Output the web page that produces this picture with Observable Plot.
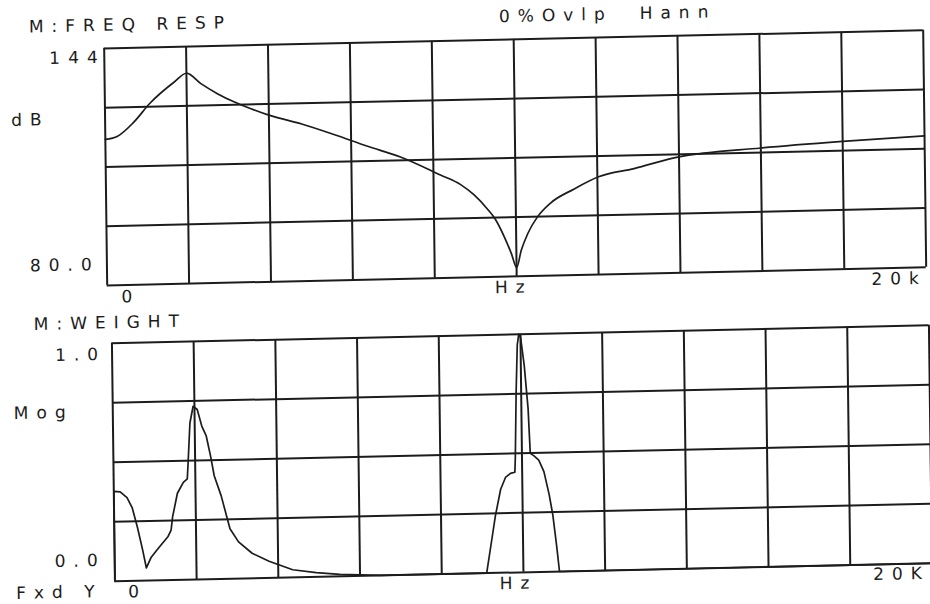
<!DOCTYPE html>
<html>
<head>
<meta charset="utf-8">
<script src="https://cdn.jsdelivr.net/npm/d3@7"></script>
<script src="https://cdn.jsdelivr.net/npm/@observablehq/plot@0.6"></script>
<style>
html, body { margin: 0; padding: 0; background: #fff; overflow: hidden; }
#page { position: relative; width: 930px; height: 604px; overflow: hidden; background: #fff; }
#wrap { position: absolute; left: 0; top: 0; width: 930px; height: 604px;
        transform-origin: 465px 302px; transform: matrix(1, -0.022, 0.0127, 1, 0, 0); }
#wrap svg { position: absolute; left: 0; overflow: visible; }
#wrap text { font-family: "DejaVu Sans", sans-serif; letter-spacing: 8px; white-space: pre; }
</style>
</head>
<body>
<div id="page"><div id="wrap"></div></div>
<script>
// ---- axes / ticks ----
const freqGrid = [0, 2000, 4000, 6000, 8000, 10000, 12000, 14000, 16000, 18000, 20000];
const dbGrid = [80, 96, 112, 128, 144];
const magGrid = [0, 0.25, 0.5, 0.75, 1];

// ---- texts ----
const respTitle = "M:FREQ RESP";
const windowNote = "0%Ovlp  Hann";
const respUnit = "dB";
const respTickLabels = ["144", "80.0"];
const respFreqLabels = ["0", "Hz", "20k"];
const weightTitle = "M:WEIGHT";
const weightUnit = "Mog";
const weightTickLabels = ["1.0", "0.0"];
const weightScaleNote = "Fxd Y";
const weightFreqLabels = ["0", "Hz", "20K"];

// ---- series: frequency response (dB) ----
const respFreq = [0, 300, 700, 1100, 1700, 2000, 2350, 2750, 3150, 3550, 4000, 4800, 5600, 6400, 7200, 8170, 8660, 8980, 9310, 9470, 9715, 9880, 10000, 10120, 10285, 10530, 10850, 11420, 12030, 12900, 14000, 16000, 18000, 20000];
const respDb = [119.4, 120.2, 123.9, 128.9, 134.5, 136.8, 133.9, 131.1, 128.8, 126.9, 125.0, 122.4, 119.3, 116.0, 112.9, 107.8, 105.1, 102.3, 98.3, 96.0, 90.6, 86.1, 82.4, 87.0, 91.5, 96.0, 99.6, 103.2, 106.4, 108.4, 111.3, 113.2, 114.5, 115.5];

// ---- series: weight (magnitude) ----
const weightFreq = [0, 0, 156, 321, 444, 568, 691, 773, 896, 1062, 1309, 1390, 1432, 1556, 1704, 1802, 1827, 1884, 1967, 2067, 2173, 2279, 2378, 2462, 2625, 2749, 2832, 3037, 3366, 3778, 4354, 4930, 5506, 6500, 9100, 9222, 9330, 9468, 9590, 9713, 9821, 9836, 9877, 9919, 9958, 10000, 10082, 10164, 10204, 10287, 10410, 10532, 10655, 10736, 10818, 10883, 20000];
const weightMag = [0, 0.378, 0.375, 0.35, 0.308, 0.224, 0.126, 0.053, 0.098, 0.133, 0.182, 0.21, 0.266, 0.364, 0.409, 0.423, 0.49, 0.658, 0.728, 0.714, 0.644, 0.602, 0.518, 0.434, 0.35, 0.266, 0.21, 0.154, 0.105, 0.07, 0.032, 0.018, 0.008, 0, 0, 0.126, 0.239, 0.351, 0.4, 0.417, 0.421, 0.478, 0.758, 0.955, 1.0, 0.99, 0.871, 0.688, 0.499, 0.489, 0.47, 0.421, 0.323, 0.239, 0.112, 0, 0];

const resp = respFreq.map((f, i) => ({f, v: respDb[i]}));
const weight = weightFreq.map((f, i) => ({f, v: weightMag[i]}));

const INK = "#1c1c1c";
const label = (t, o) => Plot.text([t], {textAnchor: "start", lineAnchor: "middle", fill: INK, fontSize: 17, ...o});

const respChart = Plot.plot({
  width: 930, height: 300,
  marginTop: 40, marginBottom: 23, marginLeft: 107, marginRight: 4,
  style: {background: "none", overflow: "visible"},
  x: {domain: [0, 20000], axis: null},
  y: {domain: [80, 144], axis: null},
  marks: [
    Plot.ruleX(freqGrid, {stroke: INK, strokeWidth: 2}),
    Plot.ruleY(dbGrid, {stroke: INK, strokeWidth: 2}),
    Plot.line(resp, {x: "f", y: "v", curve: "monotone-x", stroke: INK, strokeWidth: 1.7}),
    label(respTitle, {frameAnchor: "top-left", dx: -75, dy: -23}),
    label(windowNote, {frameAnchor: "top-left", dx: 395, dy: -23}),
    label(respUnit, {frameAnchor: "top-left", dx: -94, dy: 70}),
    label(respTickLabels[0], {frameAnchor: "left", y: [dbGrid[4]], dx: -55, dy: 9}),
    label(respTickLabels[1], {frameAnchor: "left", y: [dbGrid[0]], dx: -77, dy: -21}),
    label(respFreqLabels[0], {frameAnchor: "bottom", x: [freqGrid[0]], dx: 14, dy: 12}),
    label(respFreqLabels[1], {frameAnchor: "bottom", x: [freqGrid[5]], dx: -22, dy: 11}),
    label(respFreqLabels[2], {frameAnchor: "bottom", x: [freqGrid[10]], dx: -55, dy: 11})
  ]
});
respChart.style.top = "0px";

const weightChart = Plot.plot({
  width: 930, height: 304,
  marginTop: 35, marginBottom: 31, marginLeft: 111, marginRight: 2,
  style: {background: "none", overflow: "visible"},
  x: {domain: [0, 20000], axis: null},
  y: {domain: [0, 1], axis: null},
  marks: [
    Plot.ruleX(freqGrid, {stroke: INK, strokeWidth: 2}),
    Plot.ruleY(magGrid, {stroke: INK, strokeWidth: 2}),
    Plot.line(weight, {x: "f", y: "v", curve: "linear", stroke: INK, strokeWidth: 1.7}),
    label(weightTitle, {frameAnchor: "top-left", dx: -78, dy: -20.5}),
    label(weightUnit, {frameAnchor: "top-left", dx: -99, dy: 68}),
    label(weightTickLabels[0], {frameAnchor: "left", y: [magGrid[4]], dx: -57, dy: 11}),
    label(weightTickLabels[1], {frameAnchor: "left", y: [magGrid[0]], dx: -60, dy: -21}),
    label(weightScaleNote, {frameAnchor: "bottom-left", dx: -99, dy: 10}),
    label(weightFreqLabels[0], {frameAnchor: "bottom", x: [freqGrid[0]], dx: 13, dy: 11}),
    label(weightFreqLabels[1], {frameAnchor: "bottom", x: [freqGrid[5]], dx: -24, dy: 11}),
    label(weightFreqLabels[2], {frameAnchor: "bottom", x: [freqGrid[10]], dx: -59, dy: 10})
  ]
});
weightChart.style.top = "300px";

const wrap = document.getElementById("wrap");
wrap.appendChild(respChart);
wrap.appendChild(weightChart);
</script>
</body>
</html>
